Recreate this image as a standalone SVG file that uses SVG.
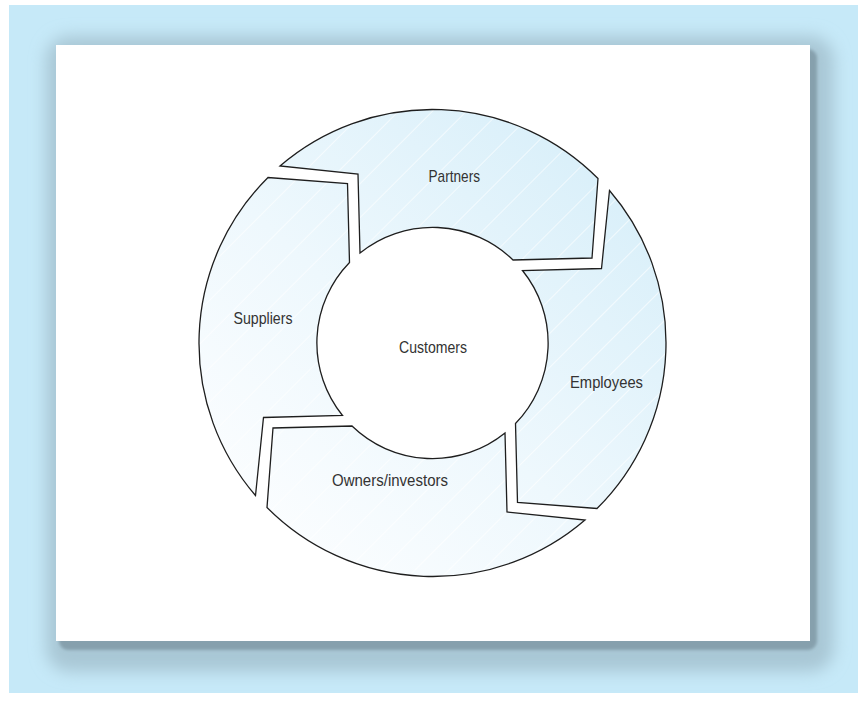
<svg xmlns="http://www.w3.org/2000/svg" width="862" height="701" viewBox="0 0 862 701">
  <defs>
    <style>
      .seg { stroke: #1e1e1e; stroke-width: 1.3; stroke-linejoin: miter; }
      .lbl { font-family: "Liberation Sans", Arial, sans-serif; font-size: 17px; fill: #333333; }
    </style>
    <filter id="soft" x="-10%" y="-10%" width="120%" height="120%">
      <feGaussianBlur stdDeviation="8"/>
    </filter>
    <filter id="soft2" x="-5%" y="-5%" width="110%" height="110%">
      <feGaussianBlur stdDeviation="1.5"/>
    </filter>
    <linearGradient id="segFill" gradientUnits="userSpaceOnUse" x1="240" y1="560" x2="640" y2="140">
      <stop offset="0" stop-color="#fdfeff"/>
      <stop offset="0.45" stop-color="#eef8fd"/>
      <stop offset="1" stop-color="#d6eef9"/>
    </linearGradient>
    <pattern id="stripes" patternUnits="userSpaceOnUse" width="24" height="24" patternTransform="rotate(45)">
      <rect x="0" y="0" width="1" height="24" fill="#ffffff" opacity="0.6"/>
    </pattern>
  </defs>

  <!-- background -->
  <rect x="9" y="5" width="849" height="688" fill="#c6e9f8"/>
  <!-- card shadow -->
  <rect x="46" y="36" width="788" height="636" rx="24" fill="#a9c7d5" filter="url(#soft)"/>
  <rect x="59" y="49" width="758" height="601" rx="9" fill="#86a0ad" filter="url(#soft2)"/>
  <!-- card -->
  <rect x="56" y="45" width="754" height="596" fill="#ffffff"/>

  <g id="customers">
    <circle cx="432.5" cy="343" r="115.5" fill="#ffffff"/>
    <text class="lbl" x="399" y="352.5" textLength="68" lengthAdjust="spacingAndGlyphs">Customers</text>
  </g>

  <g id="partners">
    <path d="M280,166 A233.5,233.5 0 0 1 598,178.5 L592,258 L513,260 A115.5,115.5 0 0 0 360,253 L358,174 Z" fill="url(#segFill)"/>
    <path d="M280,166 A233.5,233.5 0 0 1 598,178.5 L592,258 L513,260 A115.5,115.5 0 0 0 360,253 L358,174 Z" fill="url(#stripes)" class="seg"/>
    <text class="lbl" x="428.5" y="181.5" textLength="51.5" lengthAdjust="spacingAndGlyphs">Partners</text>
  </g>

  <g id="employees">
    <path d="M609.5,190.5 A233.5,233.5 0 0 1 597,508.5 L517.5,502.5 L515.5,423.5 A115.5,115.5 0 0 0 522.5,270.5 L601.5,268.5 Z" fill="url(#segFill)"/>
    <path d="M609.5,190.5 A233.5,233.5 0 0 1 597,508.5 L517.5,502.5 L515.5,423.5 A115.5,115.5 0 0 0 522.5,270.5 L601.5,268.5 Z" fill="url(#stripes)" class="seg"/>
    <text class="lbl" x="570" y="387.5" textLength="73" lengthAdjust="spacingAndGlyphs">Employees</text>
  </g>

  <g id="owners">
    <path d="M585,520 A233.5,233.5 0 0 1 267,507.5 L273,428 L352,426 A115.5,115.5 0 0 0 505,433 L507,512 Z" fill="url(#segFill)"/>
    <path d="M585,520 A233.5,233.5 0 0 1 267,507.5 L273,428 L352,426 A115.5,115.5 0 0 0 505,433 L507,512 Z" fill="url(#stripes)" class="seg"/>
    <text class="lbl" x="332" y="486" textLength="116" lengthAdjust="spacingAndGlyphs">Owners/investors</text>
  </g>

  <g id="suppliers">
    <path d="M255.5,495.5 A233.5,233.5 0 0 1 268,177.5 L347.5,183.5 L349.5,262.5 A115.5,115.5 0 0 0 342.5,415.5 L263.5,417.5 Z" fill="url(#segFill)"/>
    <path d="M255.5,495.5 A233.5,233.5 0 0 1 268,177.5 L347.5,183.5 L349.5,262.5 A115.5,115.5 0 0 0 342.5,415.5 L263.5,417.5 Z" fill="url(#stripes)" class="seg"/>
    <text class="lbl" x="233.5" y="324" textLength="59" lengthAdjust="spacingAndGlyphs">Suppliers</text>
  </g>

  <g id="connectors"></g>
</svg>
